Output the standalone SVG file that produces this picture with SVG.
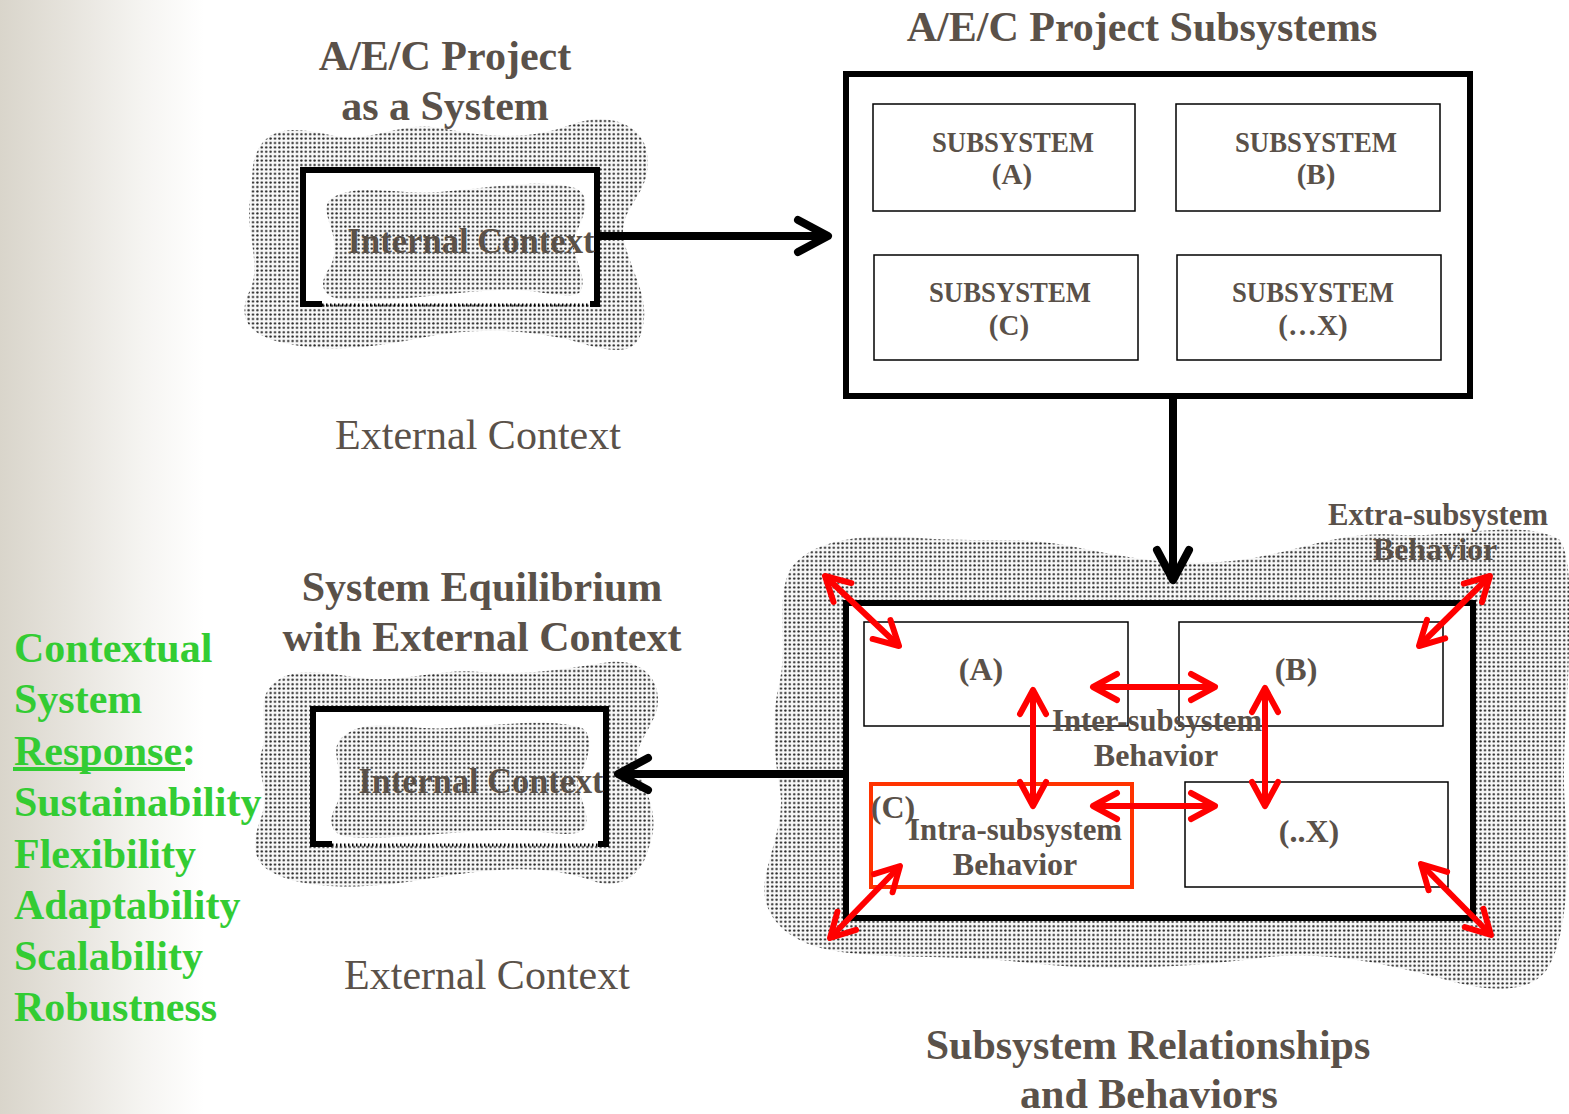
<svg xmlns="http://www.w3.org/2000/svg" width="1569" height="1114" viewBox="0 0 1569 1114">
<defs>
<linearGradient id="bg" x1="0" y1="0" x2="1569" y2="0" gradientUnits="userSpaceOnUse">
<stop offset="0" stop-color="#d9d5cb"/>
<stop offset="0.04" stop-color="#e5e2db"/>
<stop offset="0.09" stop-color="#f5f4f1"/>
<stop offset="0.13" stop-color="#ffffff"/>
<stop offset="1" stop-color="#ffffff"/>
</linearGradient>
<pattern id="dots" width="4.4" height="4.4" patternUnits="userSpaceOnUse">
<rect width="4.4" height="4.4" fill="#f8f8f8"/>
<circle cx="2.2" cy="2.2" r="1.2" fill="#222"/>
</pattern>
<marker id="bk" markerUnits="userSpaceOnUse" viewBox="-40 -25 50 50" markerWidth="50" markerHeight="50" refX="0" refY="0" orient="auto-start-reverse" overflow="visible">
<path d="M-30,-16 L0,0 L-30,16" fill="none" stroke="#000" stroke-width="8" stroke-linecap="round" stroke-linejoin="round"/>
</marker>
<marker id="rd" markerUnits="userSpaceOnUse" viewBox="-40 -25 50 50" markerWidth="50" markerHeight="50" refX="0" refY="0" orient="auto-start-reverse" overflow="visible">
<path d="M-24,-13 L0,0 L-24,13" fill="none" stroke="#ff0000" stroke-width="6" stroke-linecap="round" stroke-linejoin="round"/>
</marker>
</defs>
<style>
.t{font-family:"Liberation Serif","Times New Roman",serif;font-weight:bold;fill:#5a5149;text-anchor:middle}
.h{font-size:42px}
.r{font-family:"Liberation Serif","Times New Roman",serif;font-weight:normal;fill:#5a5149;text-anchor:middle;font-size:42px}
.g{font-family:"Liberation Serif","Times New Roman",serif;font-weight:bold;fill:#33cc33;font-size:42px}
.blob{fill:url(#dots)}
.frame{fill:#fff;stroke:#000;stroke-width:6}
.sub{fill:#fff;stroke:#000;stroke-width:1.5}
.s29{font-size:29px}
.s32{font-size:32px}
.s35{font-size:35px}
.bl{stroke:#000;stroke-width:8;fill:none;marker-end:url(#bk)}
.rl{stroke:#ff0000;stroke-width:6;fill:none;marker-start:url(#rd);marker-end:url(#rd)}
</style>
<rect id="background" x="0" y="0" width="1569" height="1114" fill="url(#bg)"/>

<g id="response-list">
<text class="g" x="14" y="662">Contextual</text>
<text class="g" x="14" y="713">System</text>
<text class="g" x="14" y="765">Response:</text>
<rect x="13" y="767" width="172" height="4" fill="#33cc33"/>
<text class="g" x="14" y="816">Sustainability</text>
<text class="g" x="14" y="868">Flexibility</text>
<text class="g" x="14" y="919">Adaptability</text>
<text class="g" x="14" y="970">Scalability</text>
<text class="g" x="14" y="1021">Robustness</text>
</g>

<g id="project-system">
<path class="blob" d="M258,150 C270,125 300,128 330,135 C370,145 400,120 440,128 C490,138 530,140 570,125 C610,110 650,125 648,165 C646,200 615,210 625,245 C635,280 650,300 642,330 C636,358 610,352 570,340 C520,328 470,328 420,338 C360,350 320,352 280,342 C240,332 240,310 250,290 C262,265 245,230 250,200 C254,175 250,165 258,150 Z"/>
<path d="M303,304 L303,170 L597,170 L597,304" fill="#fff" stroke="#000" stroke-width="6"/>
<line x1="300" y1="304" x2="322" y2="304" stroke="#000" stroke-width="6"/>
<line x1="590" y1="304" x2="600" y2="304" stroke="#000" stroke-width="6"/>
<line x1="322" y1="305" x2="590" y2="305" stroke="#000" stroke-width="3" stroke-dasharray="1.5 2.5"/>
<path class="blob" d="M332,198 C360,182 400,196 440,192 C490,188 540,178 575,188 C592,195 585,215 575,235 C568,255 590,275 580,292 C570,302 540,288 500,290 C450,292 400,302 350,300 C322,300 318,285 328,270 C338,255 335,240 330,225 C325,210 325,203 332,198 Z"/>
<text class="t s35" x="471" y="253" textLength="247" lengthAdjust="spacingAndGlyphs">Internal Context</text>
<text class="t h" x="445" y="70">A/E/C Project</text>
<text class="t h" x="445" y="120">as a System</text>
<text class="r" x="478" y="449">External Context</text>
</g>

<g id="project-subsystems">
<text class="t h" x="1142" y="41">A/E/C Project Subsystems</text>
<rect class="frame" x="846" y="74" width="624" height="322"/>
<rect class="sub" x="873" y="104" width="262" height="107"/>
<rect class="sub" x="1176" y="104" width="264" height="107"/>
<rect class="sub" x="874" y="255" width="264" height="105"/>
<rect class="sub" x="1177" y="255" width="264" height="105"/>
<text class="t s29" x="1013" y="152" textLength="162" lengthAdjust="spacingAndGlyphs">SUBSYSTEM</text>
<text class="t s29" x="1012" y="184">(A)</text>
<text class="t s29" x="1316" y="152" textLength="162" lengthAdjust="spacingAndGlyphs">SUBSYSTEM</text>
<text class="t s29" x="1316" y="184">(B)</text>
<text class="t s29" x="1010" y="302" textLength="162" lengthAdjust="spacingAndGlyphs">SUBSYSTEM</text>
<text class="t s29" x="1009" y="335">(C)</text>
<text class="t s29" x="1313" y="302" textLength="162" lengthAdjust="spacingAndGlyphs">SUBSYSTEM</text>
<text class="t s29" x="1313" y="335">(…X)</text>
</g>

<g id="equilibrium">
<text class="t h" x="482" y="601">System Equilibrium</text>
<text class="t h" x="482" y="651">with External Context</text>
<path class="blob" d="M268,690 C285,665 320,672 360,678 C400,684 440,668 480,672 C530,676 570,668 610,662 C650,658 665,690 655,715 C645,740 630,750 640,775 C650,800 660,820 648,850 C640,880 615,890 590,880 C540,862 480,870 420,880 C360,890 300,890 268,870 C248,855 255,835 262,815 C270,790 255,770 262,750 C268,730 258,705 268,690 Z"/>
<path d="M313,844 L313,709 L606,709 L606,844" fill="#fff" stroke="#000" stroke-width="6"/>
<line x1="310" y1="844" x2="332" y2="844" stroke="#000" stroke-width="6"/>
<line x1="598" y1="844" x2="609" y2="844" stroke="#000" stroke-width="6"/>
<line x1="332" y1="845" x2="598" y2="845" stroke="#000" stroke-width="3" stroke-dasharray="1.5 2.5"/>
<path class="blob" d="M345,735 C370,716 410,731 450,728 C500,725 550,718 582,728 C595,736 588,760 580,775 C572,790 592,810 585,828 C575,840 545,830 510,830 C460,830 400,840 350,837 C330,836 328,820 335,808 C342,795 340,780 338,765 C335,750 335,742 345,735 Z"/>
<text class="t s35" x="481" y="793" textLength="245" lengthAdjust="spacingAndGlyphs">Internal Context</text>
<text class="r" x="487" y="989">External Context</text>
</g>

<g id="relationships">
<path class="blob" d="M790,570 C810,540 860,533 920,538 C980,543 1020,535 1080,548 C1130,558 1180,568 1240,560 C1300,552 1340,530 1400,535 C1460,538 1520,518 1560,540 C1572,560 1569,600 1569,640 C1569,700 1560,760 1566,820 C1570,880 1565,940 1548,968 C1528,998 1480,990 1440,978 C1380,962 1320,950 1260,958 C1180,968 1100,972 1020,962 C950,954 880,960 830,950 C780,940 760,910 765,880 C770,850 785,820 780,790 C775,760 770,720 780,680 C788,640 775,600 790,570 Z"/>
<text class="t s32" x="1438" y="525" textLength="220" lengthAdjust="spacingAndGlyphs">Extra-subsystem</text>
<text class="t s32" x="1435" y="560">Behavior</text>
<rect class="frame" x="846" y="603" width="627" height="315"/>
<rect class="sub" x="864" y="622" width="264" height="104"/>
<rect class="sub" x="1179" y="622" width="264" height="104"/>
<rect class="sub" x="1185" y="782" width="263" height="105"/>
<rect x="871" y="784" width="261" height="103" fill="none" stroke="#ff3300" stroke-width="4"/>
<text class="t s32" x="981" y="680">(A)</text>
<text class="t s32" x="1296" y="680">(B)</text>
<text class="t s32" x="1309" y="842">(..X)</text>
<text class="t s32" x="893" y="818">(C)</text>
<text class="t s32" x="1157" y="731" textLength="210" lengthAdjust="spacingAndGlyphs">Inter-subsystem</text>
<text class="t s32" x="1156" y="766">Behavior</text>
<text class="t s32" x="1015" y="840" textLength="214" lengthAdjust="spacingAndGlyphs">Intra-subsystem</text>
<text class="t s32" x="1015" y="875">Behavior</text>
<text class="t h" x="1148" y="1059">Subsystem Relationships</text>
<text class="t h" x="1149" y="1108">and Behaviors</text>
</g>

<g id="connectors">
<line class="bl" x1="600" y1="236" x2="828" y2="236"/>
<line class="bl" x1="1173" y1="399" x2="1173" y2="580"/>
<line class="bl" x1="846" y1="774" x2="618" y2="774"/>
<line class="rl" x1="1093" y1="687" x2="1215" y2="687"/>
<line class="rl" x1="1093" y1="806" x2="1215" y2="806"/>
<line class="rl" x1="1033" y1="690" x2="1033" y2="806"/>
<line class="rl" x1="1265" y1="688" x2="1265" y2="806"/>
<line class="rl" x1="825" y1="576" x2="899" y2="646"/>
<line class="rl" x1="1490" y1="576" x2="1419" y2="646"/>
<line class="rl" x1="830" y1="938" x2="900" y2="866"/>
<line class="rl" x1="1491" y1="935" x2="1421" y2="864"/>
</g>
</svg>
